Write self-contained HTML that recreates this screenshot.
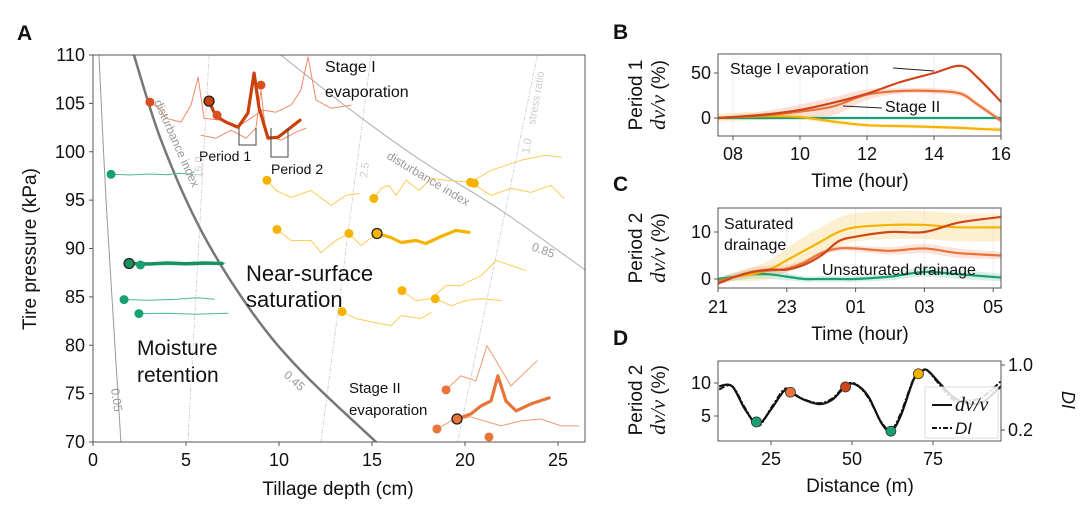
<!DOCTYPE html>
<html><head><meta charset="utf-8"><style>
html,body{margin:0;padding:0;background:#fff;}
svg{display:block;font-family:"Liberation Sans",sans-serif;}
</style></head><body>
<svg id="fig" width="1080" height="520" viewBox="0 0 1080 520" xmlns="http://www.w3.org/2000/svg"></svg>
<script>
// ===== Panel A data (depth cm, pressure kPa) =====
const contour005=[[0.32,110],[0.7,95],[1.13,81.5],[1.5,70]];
const contour045=[[2.2,110],[3.66,101.19],[5.81,91.87],[8.49,83.58],[11.18,77.36],[15.22,70]];
const contour085=[[10.1,110],[13.87,104.3],[17.63,99.12],[21.94,93.94],[26.45,87.8]];
const stress150=[[6.24,110],[5.1,70]];
const stress25=[[14.95,110],[12.26,70]];
const stress10=[[23.9,110],[19.6,70]];
const s1Thin1=[[3.06,105.13],[3.55,104.5],[3.92,103.47],[4.73,103.06],[5.27,104.82],[5.65,107.72],[5.97,103.47],[6.88,103.26],[7.69,102.44],[8.49,103.47],[9.14,104.3],[9.84,104.09],[10.65,104.82],[11.18,106.37],[11.56,109.8],[11.99,105.34],[12.8,104.5],[13.87,104.82]];
const s1Thin2=[[5.81,101.71],[6.61,101.4],[7.42,102.23],[8.23,101.4],[8.76,102.44],[9.03,106.37],[9.3,101.71],[10.1,101.19],[10.91,102.02],[11.45,102.44]];
const s1Thick=[[6.24,105.23],[6.45,104.3],[6.61,103.68],[7.15,103.06],[7.8,102.54],[8.33,103.99],[8.66,108.13],[8.92,104.61],[9.41,101.4],[9.95,101.5],[10.65,102.54],[11.13,103.26]];
const s1Dots=[[3.06,105.13],[6.67,103.78],[9.03,106.89]];
const gThin1=[[0.97,97.67],[2,97.6],[3,97.7],[4,97.62],[4.6,97.78],[5.38,97.65]];
const gThick=[[1.94,88.45],[3,88.4],[4,88.5],[5,88.42],[6,88.5],[6.94,88.45]];
const gThin2=[[2.5,88.3],[4,88.35],[5.5,88.3],[7.1,88.5]];
const gThin3=[[1.67,84.72],[3,84.65],[4.5,84.75],[5.6,84.9],[6.51,84.75]];
const gThin4=[[2.47,83.27],[4,83.3],[5.5,83.2],[7.26,83.3]];
const gDots=[[0.97,97.67],[2.55,88.3],[1.67,84.72],[2.47,83.27]];
const y1=[[9.35,97.05],[9.84,96.0],[10.65,95.28],[11.72,96.0],[12.8,94.46],[13.6,95.49],[14.3,95.7]];
const y2=[[15.1,95.18],[15.5,96.22],[15.9,96.53],[16.3,95.5],[16.83,97.05],[17.53,96.0],[18.17,97.25],[18.98,97.05],[20.3,96.84],[21.4,98.08],[23.0,99.12],[24.35,99.64],[25.16,99.43]];
const y2b=[[20.3,96.84],[21.4,95.49],[22.47,96.22],[23.55,95.8],[24.62,96.53],[25.32,95.18]];
const y3=[[9.89,91.97],[10.65,90.83],[11.72,90.83],[12.26,89.59],[13.06,90.83],[13.76,91.55],[14.41,90.31],[15.27,91.55]];
const y3Thick=[[15.27,91.55],[16.02,91.14],[16.56,90.62],[17.37,90.83],[17.9,90.52],[18.71,91.24],[19.52,91.87],[20.22,91.66]];
const y4=[[16.61,85.65],[17.37,84.61],[18.17,84.82],[18.98,86.17],[19.78,86.17],[20.86,87.2],[21.67,88.76],[23.28,87.72]];
const y4b=[[18.4,84.8],[19.25,84.09],[20.05,84.61],[20.86,84.82],[21.94,84.61]];
const y5=[[13.39,83.47],[14.14,82.75],[15.22,82.33],[16.02,82.02],[16.56,83.06],[17.63,82.75],[18.17,83.37]];
const yDots=[[9.35,97.05],[15.1,95.18],[20.3,96.84],[20.5,96.74],[9.89,91.97],[13.76,91.55],[16.61,85.65],[18.4,84.8],[13.39,83.47]];
const s2Thick=[[19.57,72.38],[20.32,72.9],[20.86,73.73],[21.4,74.25],[21.77,76.84],[22.2,74.25],[22.74,73.21],[23.55,73.94],[24.52,74.56]];
const s2Thin1=[[18.98,75.39],[19.78,76.84],[20.59,76.32],[21.18,79.95],[21.67,78.39],[22.47,75.8],[23.87,78.39]];
const s2Thin2=[[18.49,71.35],[19.25,72.18],[20.3,72.6],[21.94,71.66],[23.0,72.18],[24.08,72.38],[25.16,71.66],[26.13,71.66]];
const s2Dots=[[18.98,75.39],[18.49,71.35],[21.29,70.52]];
const aXTicks=[0,5,10,15,20,25];
const aYTicks=[70,75,80,85,90,95,100,105,110];

// ===== Panel B data (hour, dv/v %) =====
const bTime=[7.55,8,9,10,11,12,13,14,14.8,15.3,16];
const bStage1=[0,1,4,9,17,27,40,50,58,45,18];
const bStage2=[0,1,3,7,13,26,30,30,27,15,-3];
const bGreen=[0,0,0,0,0,0,0,0,0,0,0];
const bYellow=[0,1,2,1,-4,-8,-9,-10,-11,-12,-13];
const bBand2=[2,3,5,8,10,6,3,3,3,3,3];
const bBandY=[5,5,4,3,3,2,2,2,2,2,3];
const bXTicks=[8,10,12,14,16];
const bXLabels=["08","10","12","14","16"];
const bYTicks=[0,50];

// ===== Panel C data (hours since 21:00, dv/v %) =====
const cTime=[0,0.5,1,1.5,2,2.5,3,3.5,4,5,6,7,8.23];
const cDark=[-1,0.5,1.5,2,2,3,5,8,9,10,10,12,13.2];
const cOrange=[-0.5,0.5,1.5,1.8,2.2,3.5,5.5,6.5,6.5,6,6.5,5.5,5];
const cYellow=[-0.5,0.5,1,2,4,6,8,10,11,11.5,11.5,11,11];
const cGreen=[0,0.5,1,1,0.5,0,0,0,0,0.5,1.5,1,0.3];
const cBandY=[0.5,1,1.5,2,2.5,3,3,3,3,3,3,3,3];
const cBandG=[0.5,0.8,1,1,0.8,0.6,0.6,0.6,0.6,0.8,1,1,0.8];
const cXTicks=[0,2,4,6,8];
const cXLabels=["21","23","01","03","05"];
const cYTicks=[0,10];

// ===== Panel D data (distance m) =====
const dDist=[9,13,17,21,25,29,31,35,40,44,48,51,55,59,62,65,69,71,73,77,81,85,90,96];
const dDv=[9.5,9.5,6,3.8,6,8.8,8.6,7.5,6.8,7.5,9.5,9.8,8,4,2.7,5,10.5,11.4,12,10,8,7,7,9.5];
const dDI=[0.7,0.74,0.47,0.25,0.47,0.7,0.67,0.58,0.53,0.59,0.75,0.77,0.6,0.3,0.2,0.4,0.83,0.9,0.94,0.76,0.58,0.56,0.6,0.8];
const dMarkX=[20.5,31,48,62,70.5];
const dMarkV=[4.1,8.6,9.4,2.7,11.4];
const dMarkColor=["#17a073","#e8743a","#d0451a","#17a073","#f5b300"];
const dXTicks=[25,50,75];
const dYTicks=[5,10];
const dRTicks=[0.2,1.0];

const NS="http://www.w3.org/2000/svg";
const svg=document.getElementById('fig');
function mk(tag,attrs,parent){const e=document.createElementNS(NS,tag);for(const k in attrs)e.setAttribute(k,attrs[k]);(parent||svg).appendChild(e);return e;}
function smooth(pts){if(pts.length<3)return 'M'+pts.map(p=>p.join(',')).join('L');let d='M'+pts[0][0]+','+pts[0][1];for(let i=0;i<pts.length-1;i++){const p0=pts[i-1]||pts[i],p1=pts[i],p2=pts[i+1],p3=pts[i+2]||p2;const c1=[p1[0]+(p2[0]-p0[0])/6,p1[1]+(p2[1]-p0[1])/6],c2=[p2[0]-(p3[0]-p1[0])/6,p2[1]-(p3[1]-p1[1])/6];d+='C'+c1+' '+c2+' '+p2;}return d;}
function poly(pts){return 'M'+pts.map(p=>p[0].toFixed(1)+','+p[1].toFixed(1)).join('L');}
function txt(s,x,y,o){const t=mk('text',Object.assign({x:x,y:y,'font-size':17,fill:'#111'},o||{}));t.textContent=s;return t;}

// ---------- Panel A ----------
const ax=d=>93+d*18.6, ay=p=>55+(110-p)*9.675;
const A=pt=>[ax(pt[0]),ay(pt[1])];
const gA=mk('g',{});


mk('defs',{}).innerHTML='<clipPath id="clipA"><rect x="93" y="55" width="492" height="387"/></clipPath><clipPath id="clipD"><rect x="718" y="361" width="283" height="80"/></clipPath>';
const gAc=mk('g',{'clip-path':'url(#clipA)'},gA);
function aLine(pts,color,w,name,sm,dash){const p=mk('path',{d:sm?smooth(pts.map(A)):poly(pts.map(A)),fill:'none',stroke:color,'stroke-width':w,'stroke-linejoin':'round','stroke-linecap':'round'},gAc);if(dash)p.setAttribute('stroke-dasharray',dash);return p;}
aLine(stress150,'#ccc',0.8,'stress-ratio-15',false,'4,2,1,2');
aLine(stress25,'#ccc',0.8,'stress-ratio-2.5',false,'4,2,1,2');
aLine(stress10,'#ccc',0.8,'stress-ratio-1.0',false,'4,2,1,2');
aLine(contour005,'#999',1,'contour-0.05',true);
aLine(contour045,'#777',2.5,'contour-0.45',true);
aLine(contour085,'#aaa',1,'contour-0.85',true);
[[s1Thin1,'#ef8a6a',1],[s1Thin2,'#ef8a6a',1],[s1Thick,'#c9420e',3.2],
 [gThin1,'#4cb894',1],[gThin2,'#4cb894',1],[gThick,'#17915f',3.5],[gThin3,'#4cb894',1],[gThin4,'#4cb894',1],
 [y1,'#fbcc5a',1],[y2,'#fbcc5a',1],[y2b,'#fbcc5a',1],[y3,'#fbcc5a',1],[y3Thick,'#f5b300',3.2],[y4,'#fbcc5a',1],[y4b,'#fbcc5a',1],[y5,'#fbcc5a',1],
 [s2Thin1,'#f09a70',1],[s2Thin2,'#f09a70',1],[s2Thick,'#e8743a',3.2]].forEach((s,i)=>aLine(s[0],s[1],s[2],'trajectory-'+i,false));
function aDots(arr,c,name){arr.forEach(pt=>{const q=A(pt);const e=mk('circle',{cx:q[0],cy:q[1],r:4.5,fill:c},gAc);});}
aDots(s1Dots,'#d8501f','stage1-point');aDots(gDots,'#17a073','moisture-point');aDots(yDots,'#f5b300','saturation-point');aDots(s2Dots,'#e8743a','stage2-point');
[[s1Thick[0],'#c9420e'],[gThick[0],'#17915f'],[y3Thick[0],'#f5b300'],[s2Thick[0],'#e8743a']].forEach(o=>{const q=A(o[0]);const e=mk('circle',{cx:q[0],cy:q[1],r:5,fill:o[1],stroke:'#222','stroke-width':1.3},gAc);});
// period brackets
mk('path',{d:'M239,128V145H256V128',fill:'none',stroke:'#444','stroke-width':1},gA);
mk('path',{d:'M271,128V157H288V128',fill:'none',stroke:'#444','stroke-width':1},gA);
txt('Period 1',199,161,{'font-size':14});
txt('Period 2',271,174,{'font-size':14});
// contour labels
const gl={'font-size':12,fill:'#999'};
txt('disturbance index',0,0,Object.assign({transform:'translate(154,102) rotate(66)'},gl));
txt('disturbance index',0,0,Object.assign({transform:'translate(386,158) rotate(31)'},gl));
txt('15.0',0,0,Object.assign({transform:'translate(202,178) rotate(-88)','font-size':11,fill:'#ccc'}));
txt('2.5',0,0,Object.assign({transform:'translate(367,178) rotate(-82)','font-size':11,fill:'#ccc'}));
txt('1.0',0,0,Object.assign({transform:'translate(529,154) rotate(-80)','font-size':11,fill:'#ccc'}));
txt('stress ratio',0,0,Object.assign({transform:'translate(535,125) rotate(-80)','font-size':11,fill:'#ccc'}));
txt('0.85',0,0,Object.assign({transform:'translate(531,250) rotate(20)'},gl));
txt('0.45',0,0,Object.assign({transform:'translate(283,376) rotate(42)'},gl));
txt('0.05',0,0,Object.assign({transform:'translate(111,389) rotate(82)'},gl));
// region labels
txt('Stage I',325,72,{'font-size':16});
txt('evaporation',325,97,{'font-size':16});
txt('Near-surface',246,281,{'font-size':22});
txt('saturation',246,307,{'font-size':22});
txt('Moisture',137,355,{'font-size':21});
txt('retention',137,382,{'font-size':21});
txt('Stage II',349,393,{'font-size':15});
txt('evaporation',349,415,{'font-size':15});
// frame & ticks
mk('rect',{x:93,y:55,width:492,height:387,fill:'none',stroke:'#555','stroke-width':1},gA);
aXTicks.forEach(v=>{mk('line',{x1:ax(v),x2:ax(v),y1:442,y2:446,stroke:'#555'},gA);txt(v,ax(v),466,{'text-anchor':'middle','font-size':18});});
aYTicks.forEach(v=>{mk('line',{x1:89,x2:93,y1:ay(v),y2:ay(v),stroke:'#555'},gA);txt(v,85,ay(v)+6,{'text-anchor':'end','font-size':18});});
txt('Tillage depth (cm)',338,495,{'text-anchor':'middle','font-size':19});
txt('Tire pressure (kPa)',0,0,{'text-anchor':'middle','font-size':19,transform:'translate(36,249) rotate(-90)'});
txt('A',17,40,{'font-size':21,'font-weight':'bold'});

// ---------- shared for B/C ----------
function series(xs,ys,sx,sy){return xs.map((x,i)=>[sx(x),sy(ys[i])]);}
function band(xs,ys,bw,sx,sy,color,op,g){const up=xs.map((x,i)=>[sx(x),sy(ys[i]+bw[i])]),lo=xs.map((x,i)=>[sx(x),sy(ys[i]-bw[i])]).reverse();const p=mk('path',{d:smooth(up)+'L'+smooth(lo).slice(1)+'Z',fill:color,'fill-opacity':op},g);}
function ln(pts,color,w,g,name){const p=mk('path',{d:smooth(pts),fill:'none',stroke:color,'stroke-width':w},g);}
function ylab(l1,cx,cy){txt(l1,0,0,{'text-anchor':'middle','font-size':19,transform:`translate(${cx},${cy}) rotate(-90)`});
 const t=mk('text',{transform:`translate(${cx+23},${cy}) rotate(-90)`,'text-anchor':'middle','font-size':19,fill:'#111'});t.innerHTML='<tspan font-family="Liberation Serif,serif" font-style="italic" font-size="21">dv/v</tspan> (%)';}

// ---------- Panel B ----------
const bx=t=>733+(t-8)*33.5, by=v=>118-v*0.9;
const gB=mk('g',{});


bXTicks.forEach(v=>mk('line',{x1:bx(v),x2:bx(v),y1:54,y2:136,stroke:'#eee'},gB));
band(bTime,bStage2,bBand2,bx,by,'#f4a58a',0.35,gB);
band(bTime,bYellow,bBandY,bx,by,'#fbd98a',0.35,gB);
ln(series(bTime,bGreen,bx,by),'#17a073',2.2,gB,'line-moisture');
ln(series(bTime,bYellow,bx,by),'#f5b300',2.2,gB,'line-saturation');
ln(series(bTime,bStage2,bx,by),'#e8743a',2.2,gB,'line-stage2');
ln(series(bTime,bStage1,bx,by),'#d0451a',2.2,gB,'line-stage1');
mk('rect',{x:718,y:54,width:283,height:82,fill:'none',stroke:'#555'},gB);
bXTicks.forEach((v,i)=>{mk('line',{x1:bx(v),x2:bx(v),y1:136,y2:140,stroke:'#555'},gB);txt(bXLabels[i],bx(v),160,{'text-anchor':'middle','font-size':18});});
bYTicks.forEach(v=>{mk('line',{x1:714,x2:718,y1:by(v),y2:by(v),stroke:'#555'},gB);txt(v,711,by(v)+6,{'text-anchor':'end','font-size':18});});
txt('Stage I evaporation',730,74,{'font-size':16});
mk('line',{x1:893,y1:68,x2:934,y2:71,stroke:'#222'},gB);
txt('Stage II',885,112,{'font-size':16});
mk('line',{x1:843,y1:106,x2:882,y2:108,stroke:'#222'},gB);
txt('Time (hour)',860,187,{'text-anchor':'middle','font-size':19});
ylab('Period 1',642,95);
txt('B',613,39,{'font-size':21,'font-weight':'bold'});

// ---------- Panel C ----------
const cx=t=>718+t*34.4, cy=v=>279-v*4.7;
const gC=mk('g',{});


cXTicks.forEach(v=>mk('line',{x1:cx(v),x2:cx(v),y1:208,y2:288,stroke:'#eee'},gC));
band(cTime,cYellow,cBandY,cx,cy,'#fbd98a',0.4,gC);
band(cTime,cGreen,cBandG,cx,cy,'#9ad8bd',0.4,gC);
band(cTime,cOrange,cBandG,cx,cy,'#f4a58a',0.3,gC);
ln(series(cTime,cGreen,cx,cy),'#17a073',2.2,gC,'line-moisture');
ln(series(cTime,cYellow,cx,cy),'#f5b300',2.2,gC,'line-saturation');
ln(series(cTime,cOrange,cx,cy),'#e8743a',2.2,gC,'line-stage2');
ln(series(cTime,cDark,cx,cy),'#d0451a',2.2,gC,'line-stage1');
mk('rect',{x:718,y:208,width:283,height:80,fill:'none',stroke:'#555'},gC);
cXTicks.forEach((v,i)=>{mk('line',{x1:cx(v),x2:cx(v),y1:288,y2:292,stroke:'#555'},gC);txt(cXLabels[i],cx(v),313,{'text-anchor':'middle','font-size':18});});
cYTicks.forEach(v=>{mk('line',{x1:714,x2:718,y1:cy(v),y2:cy(v),stroke:'#555'},gC);txt(v,711,cy(v)+6,{'text-anchor':'end','font-size':18});});
txt('Saturated',724,229,{'font-size':16});
txt('drainage',724,250,{'font-size':16});
txt('Unsaturated drainage',822,275,{'font-size':16});
txt('Time (hour)',860,340,{'text-anchor':'middle','font-size':19});
ylab('Period 2',642,248);
txt('C',613,191,{'font-size':21,'font-weight':'bold'});

// ---------- Panel D ----------
const dx=m=>771+(m-25)*3.24, dy=v=>383-(v-10)*6.6, dr=v=>365+(1-v)*81.25;
const gD=mk('g',{});


const gDc=mk('g',{'clip-path':'url(#clipD)'},gD);
const pDI=mk('path',{d:smooth(dDist.map((m,i)=>[dx(m),dr(dDI[i])])),fill:'none',stroke:'#111','stroke-width':2,'stroke-dasharray':'6,2,2,2'},gDc);


const pDv=mk('path',{d:smooth(dDist.map((m,i)=>[dx(m),dy(dDv[i])])),fill:'none',stroke:'#111','stroke-width':2.2},gDc);


dMarkX.forEach((m,i)=>{const e=mk('circle',{cx:dx(m),cy:dy(dMarkV[i]),r:5,fill:dMarkColor[i],stroke:'#333','stroke-width':0.8},gD);});
const lg=mk('g',{},gD);


mk('rect',{x:925,y:387,width:73,height:51,fill:'#fff','fill-opacity':0.85,stroke:'#ddd'},lg);
mk('line',{x1:932,x2:952,y1:405,y2:405,stroke:'#111','stroke-width':2},lg);
mk('line',{x1:932,x2:952,y1:428,y2:428,stroke:'#111','stroke-width':2,'stroke-dasharray':'5,2,2,2'},lg);
txt('dv/v',955,411,{'font-family':'Liberation Serif,serif','font-style':'italic','font-size':20});
txt('DI',955,434,{'font-style':'italic','font-size':17});
mk('rect',{x:718,y:361,width:283,height:80,fill:'none',stroke:'#555'},gD);
dXTicks.forEach(v=>{mk('line',{x1:dx(v),x2:dx(v),y1:441,y2:445,stroke:'#555'},gD);txt(v,dx(v),465,{'text-anchor':'middle','font-size':18});});
dYTicks.forEach(v=>{mk('line',{x1:714,x2:718,y1:dy(v),y2:dy(v),stroke:'#555'},gD);txt(v,711,dy(v)+6,{'text-anchor':'end','font-size':18});});
dRTicks.forEach(v=>{mk('line',{x1:1001,x2:1005,y1:dr(v),y2:dr(v),stroke:'#555'},gD);txt(v.toFixed(1),1008,dr(v)+6,{'font-size':18});});
txt('Distance (m)',860,492,{'text-anchor':'middle','font-size':19});
ylab('Period 2',642,400);
txt('DI',0,0,{'font-style':'italic','font-size':18,'text-anchor':'middle',transform:'translate(1062,400) rotate(90)'});
txt('D',613,345,{'font-size':21,'font-weight':'bold'});
</script>
</body></html>
